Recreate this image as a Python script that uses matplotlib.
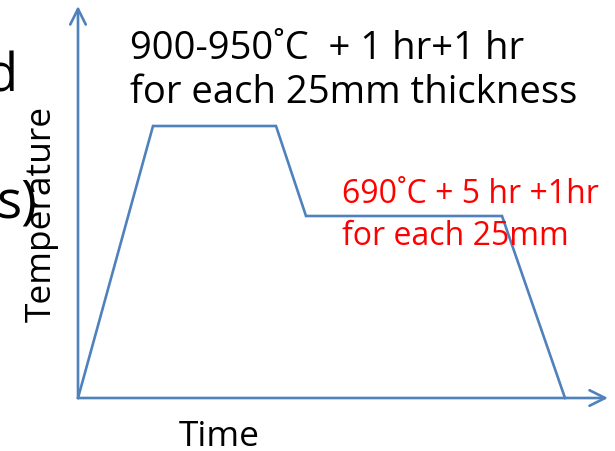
import matplotlib.pyplot as plt

# heat treatment profile (arbitrary units)
time = [0, 75, 198, 228, 424, 487]
temp = [0, 272, 272, 182, 182, 0]

austenitize_label = "900-950˚C  + 1 hr+1 hr\nfor each 25mm thickness"
temper_label = "690˚C + 5 hr +1hr\nfor each 25mm"
x_label = "Time"
y_label = "Temperature"

blue = '#4F81BD'
font = 'Open Sans'

fig = plt.figure(figsize=(6.15, 4.51), dpi=100)
ax = fig.add_axes([0, 0, 1, 1])
ax.set_xlim(-78, 537)
ax.set_ylim(-53, 398)
ax.axis('off')

# axes drawn as arrows
arrow = dict(arrowstyle='->', color=blue, lw=1.9, mutation_scale=28,
             shrinkA=0, shrinkB=0)
ax.annotate('', xy=(0, 392), xytext=(0, 0), arrowprops=arrow)
ax.annotate('', xy=(530, 0), xytext=(0, 0), arrowprops=arrow)

ax.plot(time, temp, color=blue, lw=1.9, solid_joinstyle='miter')

# multi-line text: the baseline given is that of the last line
ax.text(52, 295, austenitize_label, fontsize=27.5, family=font,
        va='baseline', ha='left', linespacing=1.22)
ax.text(264, 153, temper_label, fontsize=23, family=font, color='red',
        va='baseline', ha='left', linespacing=1.35)

ax.text(-36, 184, y_label, fontsize=25.5, family=font, rotation=90,
        ha='center', va='center')
ax.text(141, -48, x_label, fontsize=25.5, family=font, ha='center', va='baseline')

# clipped text from the slide behind
ax.text(-61, 306, "d", fontsize=38, family=font, ha='right', va='baseline')
ax.text(-41, 180, "s)", fontsize=38, family=font, ha='right', va='baseline')

fig.savefig('out.png', dpi=100)
